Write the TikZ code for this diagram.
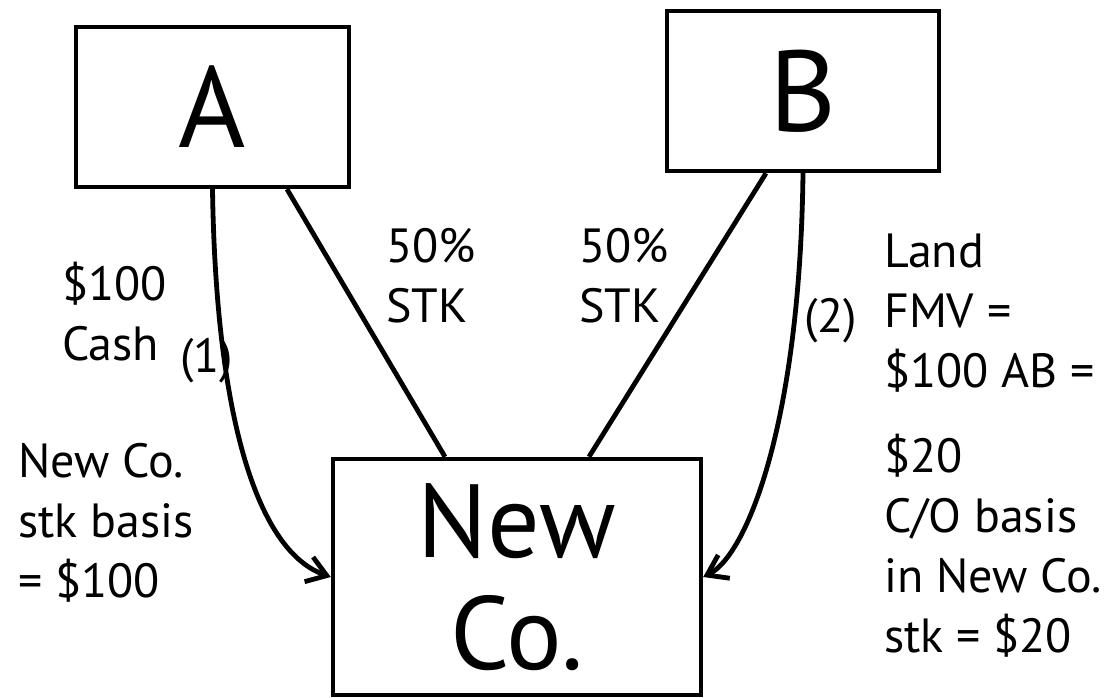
\documentclass[tikz,border=0pt]{standalone}
\usepackage{fontspec}
\setmainfont{PT Sans}
\usetikzlibrary{arrows.meta}
\begin{document}
\begin{tikzpicture}[x=1pt,y=-1pt,
  party/.style={draw, line width=4.4pt, inner sep=0pt, align=center},
  link/.style={line width=4.8pt},
  flow/.style={line width=4.8pt, -{Straight Barb[length=19pt,width=26pt]}},
  % anchored on the baseline of the last line of each label
  note/.style={anchor=base west, inner sep=0pt, align=left,
    font=\fontsize{48}{60}\selectfont}
]
\useasboundingbox (0,0) rectangle (1109,698);

% the two shareholders and the new corporation
\node[party, minimum width=273pt, minimum height=160pt,
  font=\fontsize{115}{120}\selectfont] (A) at (212.5,107) {A};
\node[party, minimum width=272pt, minimum height=160pt,
  font=\fontsize{115}{120}\selectfont] (B) at (803,91) {B};
\node[party, minimum width=368pt, minimum height=236pt,
  font=\fontsize{104}{112}\selectfont] (N) at (517,577) {New\\Co.};

% stock issued to each shareholder
\draw[link] ([xshift=74.5pt]A.south) -- ([xshift=-72pt]N.north);
\draw[link] ([xshift=-37pt]B.south) -- ([xshift=72pt]N.north);

% property contributed to the corporation
\draw[flow] (A.south) .. controls +(3.5,233) and +(-72,-25) .. (N.west);
\draw[flow] (B.south) .. controls +(-3,249) and +(44,-22) .. (N.east);

% labels
\node[note] (cash) at (62,360) {\$100\\Cash};
\node[note] (one) at (180,372) {(1)};
\node[note] (stka) at (386,322) {50\%\\STK};
\node[note] (stkb) at (579,322) {50\%\\STK};
\node[note] (two) at (804,332) {(2)};
\node[note] (land) at (884,387) {Land\\FMV =\\\$100 AB =};
\node[note] (cob) at (884,652) {\$20\\C/O basis\\in New Co.\\stk = \$20};
\node[note] (basa) at (18,597) {New Co.\\stk basis\\= \$100};
\end{tikzpicture}
\end{document}
